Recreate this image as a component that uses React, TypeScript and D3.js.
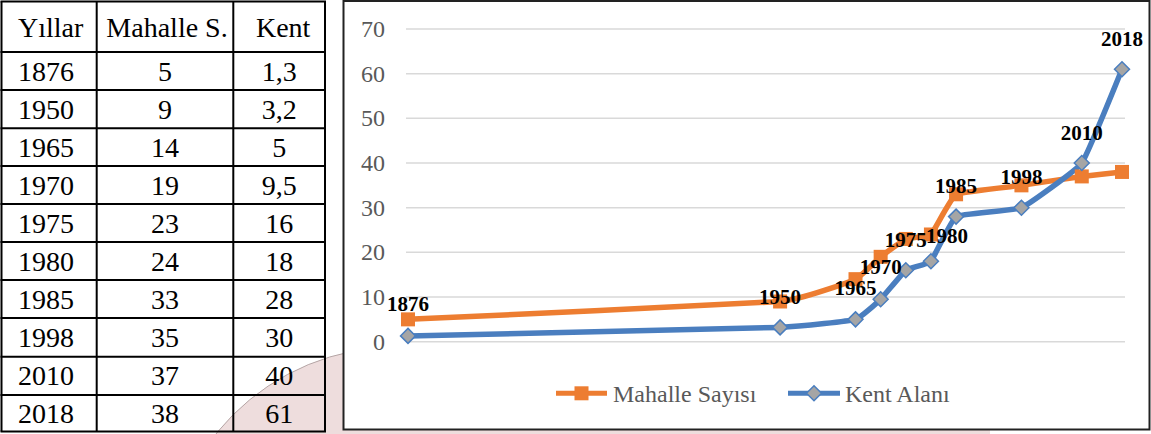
import React from "react";
import * as d3 from "d3";

const years = [1876, 1950, 1965, 1970, 1975, 1980, 1985, 1998, 2010, 2018];
const mahalle = [5, 9, 14, 19, 23, 24, 33, 35, 37, 38];
const kent = [1.3, 3.2, 5, 9.5, 16, 18, 28, 30, 40, 61];
const yTicks = [0, 10, 20, 30, 40, 50, 60, 70];
const tableHeaders = ["Yıllar", "Mahalle S.", "Kent"];
const seriesNames = ["Mahalle Sayısı", "Kent Alanı"];

// label placement (anchor series, pixel offsets) – layout only
const labelPlacement: [string, number, number][] = [
  ["m", 0, -8],
  ["m", 0, 2.5],
  ["m", 0, 16],
  ["m", 0, 17],
  ["m", 0, 8],
  ["m", 16, 9],
  ["m", 0, -1],
  ["m", 0, -1],
  ["k", 0, -23],
  ["k", 0, -23],
];

const ORANGE = "#ED7D31";
const BLUE = "#4A7EBF";
const GRAY = "#A5A5A5";
const SERIF = "'Liberation Serif', 'Times New Roman', serif";

export default function App() {
  const W = 1151, H = 434;
  const x = d3.scaleLinear().domain([1876, 2018]).range([408, 1122]);
  const y = d3.scaleLinear().domain([0, 70]).range([341.7, 29]);
  const gridX0 = 406, gridX1 = 1125;

  const line = d3
    .line<[number, number]>()
    .x((d) => x(d[0]))
    .y((d) => y(d[1]))
    .curve(d3.curveCardinal.tension(0.7));

  const mPts = years.map((yr, i) => [yr, mahalle[i]] as [number, number]);
  const kPts = years.map((yr, i) => [yr, kent[i]] as [number, number]);

  // table geometry
  const colX = [1.5, 96.7, 233.3, 325];
  const rowY = [1.5, 52, 90, 128.3, 166, 204, 242, 280, 318, 356.7, 395, 431.5];

  const diamond = (cx: number, cy: number, r: number) =>
    `M${cx},${cy - r}L${cx + r},${cy}L${cx},${cy + r}L${cx - r},${cy}Z`;

  const rows = years.map((yr, i) => [
    String(yr),
    String(mahalle[i]),
    String(kent[i]).replace(".", ","),
  ]);

  return (
    <svg
      width={W}
      height={H}
      style={{ position: "absolute", left: 0, top: 0, background: "#fff" }}
    >
      {/* watermark */}
      <circle cx={397} cy={579} r={232} fill="#eedddd" stroke="#b5a5a5" strokeWidth={1} />
      <rect x={560} y={430} width={430} height={4} fill="#eedddd" />

      {/* table */}
      <g fontFamily={SERIF} fontSize={28} fill="#000">
        {rowY.map((ry, i) => (
          <line key={"h" + i} x1={colX[0] - 1} x2={colX[3] + 1} y1={ry} y2={ry} stroke="#000" strokeWidth={2} />
        ))}
        {colX.map((cx, i) => (
          <line key={"v" + i} x1={cx} x2={cx} y1={rowY[0]} y2={rowY[rowY.length - 1]} stroke="#000" strokeWidth={2} />
        ))}
        {tableHeaders.map((h, j) => (
          <text
            key={"th" + j}
            x={j === 0 ? 18 : (colX[j] + colX[j + 1]) / 2 + (j === 1 ? 2 : 4)}
            y={36.7}
            textAnchor={j === 0 ? "start" : "middle"}
          >
            {h}
          </text>
        ))}
        {rows.map((r, i) =>
          r.map((c, j) => (
            <text
              key={`c${i}-${j}`}
              x={j === 0 ? 18 : (colX[j] + colX[j + 1]) / 2}
              y={(rowY[i + 1] + rowY[i + 2]) / 2 + 9.5}
              textAnchor={j === 0 ? "start" : "middle"}
            >
              {c}
            </text>
          ))
        )}
      </g>

      {/* chart area */}
      <rect x={343.5} y={1} width={806} height={428.5} fill="#fff" stroke="#222" strokeWidth={2} />

      {/* gridlines */}
      {yTicks.map((t) => (
        <line key={"g" + t} x1={gridX0} x2={gridX1} y1={y(t)} y2={y(t)} stroke="#d9d9d9" strokeWidth={1.5} />
      ))}
      {/* y tick labels */}
      <g fontFamily={SERIF} fontSize={24} fill="#595959">
        {yTicks.map((t) => (
          <text key={"t" + t} x={385} y={y(t) + 8} textAnchor="end">
            {t}
          </text>
        ))}
      </g>

      {/* lines */}
      <path d={line(mPts) || ""} fill="none" stroke={ORANGE} strokeWidth={5.5} strokeLinejoin="round" />
      <path d={line(kPts) || ""} fill="none" stroke={BLUE} strokeWidth={5.5} strokeLinejoin="round" />

      {/* markers */}
      {mPts.map((p, i) => (
        <rect key={"mm" + i} x={x(p[0]) - 7} y={y(p[1]) - 7} width={14} height={14} fill={ORANGE} />
      ))}
      {kPts.map((p, i) => (
        <path key={"km" + i} d={diamond(x(p[0]), y(p[1]), 7.5)} fill={GRAY} stroke={BLUE} strokeWidth={1.5} />
      ))}

      {/* data labels */}
      <g fontFamily={SERIF} fontSize={21} fontWeight="bold" fill="#000">
        {years.map((yr, i) => {
          const [s, dx, dy] = labelPlacement[i];
          const v = s === "m" ? mahalle[i] : kent[i];
          return (
            <text key={"l" + i} x={x(yr) + dx} y={y(v) + dy} textAnchor="middle">
              {yr}
            </text>
          );
        })}
      </g>

      {/* legend */}
      <g fontFamily={SERIF} fontSize={24} fill="#595959">
        <line x1={556} x2={607} y1={393.3} y2={393.3} stroke={ORANGE} strokeWidth={5} />
        <rect x={574.5} y={386.3} width={14} height={14} fill={ORANGE} />
        <text x={613} y={401.7}>{seriesNames[0]}</text>
        <line x1={788} x2={840} y1={393.3} y2={393.3} stroke={BLUE} strokeWidth={5} />
        <path d={diamond(814, 393.3, 7.5)} fill={GRAY} stroke={BLUE} strokeWidth={1.5} />
        <text x={845} y={401.7}>{seriesNames[1]}</text>
      </g>
    </svg>
  );
}
